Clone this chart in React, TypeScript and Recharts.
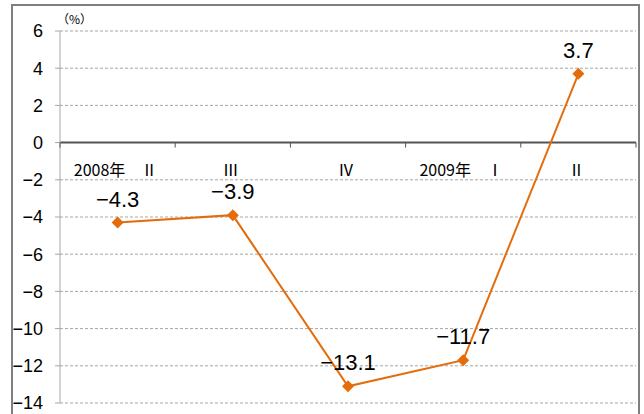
import React from 'react';
import {
  LineChart,
  Line,
  XAxis,
  YAxis,
  CartesianGrid,
  ReferenceLine,
  LabelList
} from 'recharts';

const quarters = ['2008年　Ⅱ', 'Ⅲ', 'Ⅳ', '2009年　Ⅰ', 'Ⅱ'];
const growth = [-4.3, -3.9, -13.1, -11.7, 3.7];
const yTicks = [-14, -12, -10, -8, -6, -4, -2, 0, 2, 4, 6];

const W = 644;
const H = 414;
const X_AXIS_H = 10;
const M = { top: 31, right: 8, bottom: 1, left: 12 };
const Y_AXIS_W = 48;
const FONT = '"Liberation Sans", "Noto Sans CJK JP", sans-serif';
const CJK = '"Noto Sans CJK JP", sans-serif';

const plotLeft = M.left + Y_AXIS_W;
const plotW = W - M.right - plotLeft;
const plotH = H - M.top - M.bottom - X_AXIS_H;
const yMin = yTicks[0];
const yMax = yTicks[yTicks.length - 1];
const zeroY = M.top + ((yMax - 0) / (yMax - yMin)) * plotH;
const bandW = plotW / quarters.length;

const minus = (v: number | string) => String(v).replace('-', '−');

function QuarterTick(props: any) {
  const { x, payload, index } = props;
  return (
    <g>
      <line x1={x - bandW / 2} x2={x - bandW / 2} y1={zeroY} y2={zeroY + 5} stroke="#555" />
      {index === quarters.length - 1 && (
        <line x1={x + bandW / 2} x2={x + bandW / 2} y1={zeroY} y2={zeroY + 5} stroke="#555" />
      )}
      <text x={x - 2} y={zeroY + 33} textAnchor="middle" fontSize={16} fill="#000" fontFamily={CJK}>
        {payload.value}
      </text>
    </g>
  );
}

const Diamond = (props: any) => {
  const { cx, cy } = props;
  const r = 6;
  return (
    <path
      d={`M${cx},${cy - r} L${cx + r},${cy} L${cx},${cy + r} L${cx - r},${cy} Z`}
      fill="#e46c0a"
    />
  );
};

export default function App() {
  const data = quarters.map((q, i) => ({ q, v: growth[i] }));

  return (
    <div style={{ position: 'relative', width: W, height: H, background: '#fff', overflow: 'hidden' }}>
      <style>{'html,body{margin:0;padding:0;overflow:hidden}'}</style>
      <div
        style={{
          position: 'absolute',
          left: 11,
          top: 4,
          width: 625,
          height: 440,
          borderLeft: '2px solid #7f7f7f',
          borderTop: '2px solid #7f7f7f',
          borderRight: '2px solid #7f7f7f'
        }}
      />
      <div style={{ position: 'absolute', left: 0, top: 0 }}>
        <LineChart width={W} height={H} data={data} margin={M} style={{ fontFamily: FONT }}>
          <CartesianGrid horizontal vertical={false} stroke="#a6a6a6" strokeDasharray="3 2" />
          <XAxis
            dataKey="q"
            scale="band"
            height={X_AXIS_H}
            axisLine={false}
            tickLine={false}
            tick={<QuarterTick />}
            interval={0}
          />
          <YAxis
            width={Y_AXIS_W}
            domain={[yMin, yMax]}
            ticks={yTicks}
            interval={0}
            stroke="#a6a6a6"
            tickSize={5}
            tickMargin={12}
            tick={{ fill: '#000', fontSize: 18, fontFamily: FONT }}
            tickFormatter={minus}
          />
          <ReferenceLine y={0} stroke="#555" strokeWidth={2} />
          <Line
            type="linear"
            dataKey="v"
            stroke="#e46c0a"
            strokeWidth={2}
            dot={<Diamond />}
            isAnimationActive={false}
          >
            <LabelList
              dataKey="v"
              position="top"
              offset={16}
              formatter={minus}
              style={{ fontSize: 22, fill: '#000', fontFamily: FONT }}
            />
          </Line>
        </LineChart>
      </div>
      <div style={{ position: 'absolute', left: 57, top: 10, fontSize: 12, fontFamily: CJK, color: '#000' }}>
        （%）
      </div>
    </div>
  );
}
